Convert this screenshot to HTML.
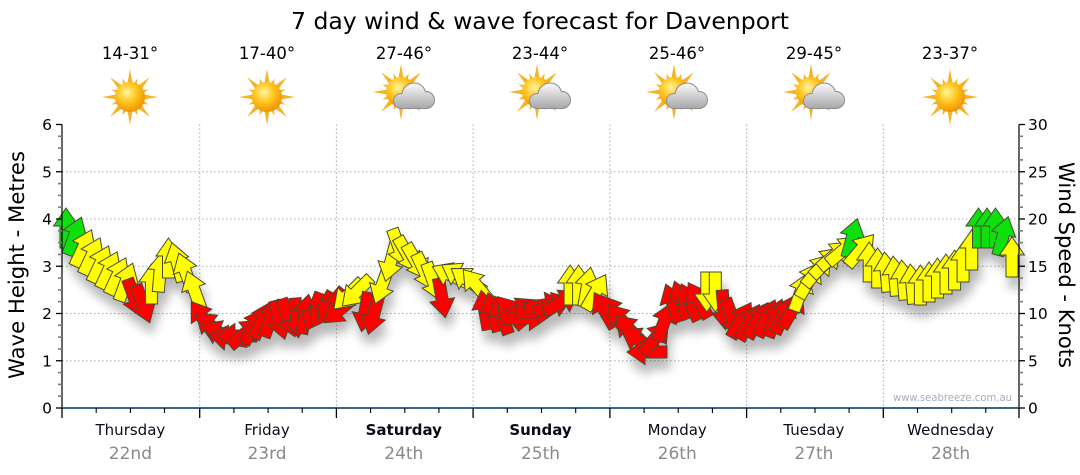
<!DOCTYPE html>
<html><head><meta charset="utf-8"><style>
html,body{margin:0;padding:0;background:#fff;}
svg{display:block;}
text{font-family:"DejaVu Sans","Liberation Sans",sans-serif;}
.r{fill:#ff0000}.y{fill:#ffff00}.g{fill:#11e011}
</style></head><body>
<svg width="1080" height="475" viewBox="0 0 1080 475" xmlns="http://www.w3.org/2000/svg">
<defs>
<polygon id="a" points="0,-20 12.5,-2 6,-2 6,20 -6,20 -6,-2 -12.5,-2" stroke="#4a4a30" stroke-width="1" stroke-linejoin="miter"/>
<filter id="sh" x="-10%" y="-20%" width="120%" height="160%">
<feGaussianBlur in="SourceAlpha" stdDeviation="5"/>
<feOffset dx="3" dy="11" result="o"/>
<feComponentTransfer><feFuncA type="linear" slope="0.28"/></feComponentTransfer>
<feMerge><feMergeNode/><feMergeNode in="SourceGraphic"/></feMerge>
</filter>
<radialGradient id="sg" cx="0.4" cy="0.35" r="0.7"><stop offset="0" stop-color="#fff3a0"/><stop offset="0.45" stop-color="#ffc820"/><stop offset="1" stop-color="#ee8c00"/></radialGradient>
<linearGradient id="cg" gradientUnits="userSpaceOnUse" x1="0" y1="-9" x2="0" y2="16"><stop offset="0" stop-color="#fafafa"/><stop offset="1" stop-color="#a9a9a9"/></linearGradient>
<g id="sun">
<g fill="#f5b428">
<polygon points="0,-28 3,-11 -3,-11"/>
<polygon points="0,-20 2.5,-11 -2.5,-11" transform="rotate(22.5)"/>
<polygon points="0,-28 3,-11 -3,-11" transform="rotate(45)"/>
<polygon points="0,-20 2.5,-11 -2.5,-11" transform="rotate(67.5)"/>
<polygon points="0,-28 3,-11 -3,-11" transform="rotate(90)"/>
<polygon points="0,-20 2.5,-11 -2.5,-11" transform="rotate(112.5)"/>
<polygon points="0,-28 3,-11 -3,-11" transform="rotate(135)"/>
<polygon points="0,-20 2.5,-11 -2.5,-11" transform="rotate(157.5)"/>
<polygon points="0,-28 3,-11 -3,-11" transform="rotate(180)"/>
<polygon points="0,-20 2.5,-11 -2.5,-11" transform="rotate(202.5)"/>
<polygon points="0,-28 3,-11 -3,-11" transform="rotate(225)"/>
<polygon points="0,-20 2.5,-11 -2.5,-11" transform="rotate(247.5)"/>
<polygon points="0,-28 3,-11 -3,-11" transform="rotate(270)"/>
<polygon points="0,-20 2.5,-11 -2.5,-11" transform="rotate(292.5)"/>
<polygon points="0,-28 3,-11 -3,-11" transform="rotate(315)"/>
<polygon points="0,-20 2.5,-11 -2.5,-11" transform="rotate(337.5)"/>
</g>
<circle r="15" fill="url(#sg)"/>
</g>
<g id="cl">
<g fill="#8c8c8c" stroke="#8c8c8c" stroke-width="2">
<circle cx="13" cy="3" r="11.5"/><circle cx="0" cy="9" r="7"/><circle cx="25" cy="8" r="8"/><rect x="0" y="8" width="25" height="8"/>
</g>
<g fill="url(#cg)">
<circle cx="13" cy="3" r="11.5"/><circle cx="0" cy="9" r="7"/><circle cx="25" cy="8" r="8"/><rect x="0" y="8" width="25" height="8"/>
</g>
</g>
<g id="pc"><use href="#sun"/><use href="#cl"/></g>
</defs>

<rect width="1080" height="475" fill="#fff"/>

<!-- title -->
<text x="540" y="29" font-size="23" text-anchor="middle" textLength="498" lengthAdjust="spacingAndGlyphs" fill="#000">7 day wind &amp; wave forecast for Davenport</text>

<!-- temps -->
<g font-size="16.5" text-anchor="middle" fill="#000">
<text x="130" y="59">14-31°</text>
<text x="267" y="59">17-40°</text>
<text x="404" y="59">27-46°</text>
<text x="540" y="59">23-44°</text>
<text x="677" y="59">25-46°</text>
<text x="814" y="59">29-45°</text>
<text x="950" y="59">23-37°</text>
</g>

<!-- icons -->
<use href="#sun" x="130" y="97"/>
<use href="#sun" x="267" y="97"/>
<use href="#pc" x="401" y="92"/>
<use href="#pc" x="537" y="92"/>
<use href="#pc" x="674" y="92"/>
<use href="#pc" x="811" y="92"/>
<use href="#sun" x="950" y="97"/>

<!-- grid -->
<g stroke="#a8a8a8" stroke-width="1" stroke-dasharray="1.5,2.5">
<line x1="62" y1="360.75" x2="1019" y2="360.75"/>
<line x1="62" y1="313.5" x2="1019" y2="313.5"/>
<line x1="62" y1="266.25" x2="1019" y2="266.25"/>
<line x1="62" y1="219" x2="1019" y2="219"/>
<line x1="62" y1="171.75" x2="1019" y2="171.75"/>
<line x1="199.7" y1="124.5" x2="199.7" y2="408"/>
<line x1="336.4" y1="124.5" x2="336.4" y2="408"/>
<line x1="473.1" y1="124.5" x2="473.1" y2="408"/>
<line x1="609.9" y1="124.5" x2="609.9" y2="408"/>
<line x1="746.6" y1="124.5" x2="746.6" y2="408"/>
<line x1="883.3" y1="124.5" x2="883.3" y2="408"/>
</g>

<!-- watermark -->
<text x="893" y="401" font-size="10.5" fill="#a4adbd" textLength="119" lengthAdjust="spacingAndGlyphs">www.seabreeze.com.au</text>

<!-- arrows -->
<g filter="url(#sh)">
<use href="#a" class="g" transform="translate(66,228) rotate(0)"/>
<use href="#a" class="g" transform="translate(74.5,236) rotate(20)"/>
<use href="#a" class="y" transform="translate(83.1,248) rotate(25)"/>
<use href="#a" class="y" transform="translate(91.6,256) rotate(25)"/>
<use href="#a" class="y" transform="translate(100.2,264) rotate(25)"/>
<use href="#a" class="y" transform="translate(108.7,270) rotate(25)"/>
<use href="#a" class="y" transform="translate(117.3,276) rotate(25)"/>
<use href="#a" class="y" transform="translate(125.8,282) rotate(20)"/>
<use href="#a" class="r" transform="translate(134.4,298) rotate(160)"/>
<use href="#a" class="r" transform="translate(142.9,304) rotate(160)"/>
<use href="#a" class="y" transform="translate(151.4,284) rotate(0)"/>
<use href="#a" class="y" transform="translate(160,272) rotate(5)"/>
<use href="#a" class="y" transform="translate(168.5,258) rotate(0)"/>
<use href="#a" class="y" transform="translate(177.1,262) rotate(-15)"/>
<use href="#a" class="y" transform="translate(185.6,272) rotate(-20)"/>
<use href="#a" class="y" transform="translate(194.2,290) rotate(-20)"/>

<use href="#a" class="r" transform="translate(202.7,318) rotate(-35)"/>
<use href="#a" class="r" transform="translate(211.2,326) rotate(-50)"/>
<use href="#a" class="r" transform="translate(219.8,333) rotate(-65)"/>
<use href="#a" class="r" transform="translate(228.3,338) rotate(-80)"/>
<use href="#a" class="r" transform="translate(236.9,336) rotate(-90)"/>
<use href="#a" class="r" transform="translate(245.4,333) rotate(50)"/>
<use href="#a" class="r" transform="translate(254,326) rotate(30)"/>
<use href="#a" class="r" transform="translate(262.5,320) rotate(25)"/>
<use href="#a" class="r" transform="translate(271.1,318) rotate(20)"/>
<use href="#a" class="r" transform="translate(279.6,320) rotate(165)"/>
<use href="#a" class="r" transform="translate(288.2,318) rotate(160)"/>
<use href="#a" class="r" transform="translate(296.7,318) rotate(175)"/>
<use href="#a" class="r" transform="translate(305.2,314) rotate(10)"/>
<use href="#a" class="r" transform="translate(313.8,312) rotate(200)"/>
<use href="#a" class="r" transform="translate(322.3,310) rotate(210)"/>
<use href="#a" class="r" transform="translate(330.9,305) rotate(220)"/>

<use href="#a" class="r" transform="translate(339.4,310) rotate(230)"/>
<use href="#a" class="y" transform="translate(348,295) rotate(225)"/>
<use href="#a" class="y" transform="translate(356.5,292) rotate(225)"/>
<use href="#a" class="r" transform="translate(365,312) rotate(190)"/>
<use href="#a" class="r" transform="translate(373.6,315) rotate(195)"/>
<use href="#a" class="y" transform="translate(382.1,285) rotate(200)"/>
<use href="#a" class="y" transform="translate(390.7,262) rotate(195)"/>
<use href="#a" class="y" transform="translate(399.2,248) rotate(160)"/>
<use href="#a" class="y" transform="translate(407.8,255) rotate(150)"/>
<use href="#a" class="y" transform="translate(416.3,262) rotate(150)"/>
<use href="#a" class="y" transform="translate(424.8,272) rotate(155)"/>
<use href="#a" class="y" transform="translate(433.4,282) rotate(160)"/>
<use href="#a" class="r" transform="translate(441.9,298) rotate(170)"/>
<use href="#a" class="y" transform="translate(450.5,275) rotate(-65)"/>
<use href="#a" class="y" transform="translate(459,275) rotate(-60)"/>
<use href="#a" class="y" transform="translate(467.6,280) rotate(-55)"/>

<use href="#a" class="y" transform="translate(476.1,285) rotate(-40)"/>
<use href="#a" class="r" transform="translate(484.7,310) rotate(-10)"/>
<use href="#a" class="r" transform="translate(493.2,312) rotate(-15)"/>
<use href="#a" class="r" transform="translate(501.7,315) rotate(-20)"/>
<use href="#a" class="r" transform="translate(510.3,312) rotate(-40)"/>
<use href="#a" class="r" transform="translate(518.8,310) rotate(60)"/>
<use href="#a" class="r" transform="translate(527.4,318) rotate(90)"/>
<use href="#a" class="r" transform="translate(535.9,312) rotate(90)"/>
<use href="#a" class="r" transform="translate(544.5,305) rotate(80)"/>
<use href="#a" class="r" transform="translate(553,305) rotate(70)"/>
<use href="#a" class="r" transform="translate(561.6,302) rotate(60)"/>
<use href="#a" class="y" transform="translate(570.1,285) rotate(0)"/>
<use href="#a" class="y" transform="translate(578.6,285) rotate(0)"/>
<use href="#a" class="y" transform="translate(587.2,287) rotate(10)"/>
<use href="#a" class="y" transform="translate(595.7,292) rotate(30)"/>
<use href="#a" class="r" transform="translate(604.3,310) rotate(-30)"/>

<use href="#a" class="r" transform="translate(612.8,312) rotate(-35)"/>
<use href="#a" class="r" transform="translate(621.4,320) rotate(-40)"/>
<use href="#a" class="r" transform="translate(629.9,330) rotate(-45)"/>
<use href="#a" class="r" transform="translate(638.5,340) rotate(-60)"/>
<use href="#a" class="r" transform="translate(647,352) rotate(-90)"/>
<use href="#a" class="r" transform="translate(655.5,338) rotate(40)"/>
<use href="#a" class="r" transform="translate(664.1,322) rotate(20)"/>
<use href="#a" class="r" transform="translate(672.6,303) rotate(-20)"/>
<use href="#a" class="r" transform="translate(681.2,300) rotate(-20)"/>
<use href="#a" class="r" transform="translate(689.7,302) rotate(-25)"/>
<use href="#a" class="r" transform="translate(698.3,300) rotate(-30)"/>
<use href="#a" class="y" transform="translate(706.8,292) rotate(180)"/>
<use href="#a" class="y" transform="translate(715.3,292) rotate(180)"/>
<use href="#a" class="r" transform="translate(723.9,310) rotate(175)"/>
<use href="#a" class="r" transform="translate(732.4,318) rotate(160)"/>
<use href="#a" class="r" transform="translate(741,320) rotate(30)"/>

<use href="#a" class="r" transform="translate(749.5,322) rotate(30)"/>
<use href="#a" class="r" transform="translate(758.1,320) rotate(30)"/>
<use href="#a" class="r" transform="translate(766.6,318) rotate(25)"/>
<use href="#a" class="r" transform="translate(775.2,318) rotate(20)"/>
<use href="#a" class="r" transform="translate(783.7,315) rotate(25)"/>
<use href="#a" class="r" transform="translate(792.3,310) rotate(30)"/>
<use href="#a" class="y" transform="translate(800.8,292) rotate(20)"/>
<use href="#a" class="y" transform="translate(809.3,280) rotate(30)"/>
<use href="#a" class="y" transform="translate(817.9,270) rotate(40)"/>
<use href="#a" class="y" transform="translate(826.4,262) rotate(45)"/>
<use href="#a" class="y" transform="translate(835,255) rotate(50)"/>
<use href="#a" class="y" transform="translate(843.5,250) rotate(50)"/>
<use href="#a" class="g" transform="translate(852.1,238) rotate(15)"/>
<use href="#a" class="y" transform="translate(860.6,250) rotate(40)"/>
<use href="#a" class="y" transform="translate(869.2,262) rotate(0)"/>
<use href="#a" class="y" transform="translate(877.7,268) rotate(0)"/>

<use href="#a" class="y" transform="translate(886.2,272) rotate(-5)"/>
<use href="#a" class="y" transform="translate(894.8,276) rotate(-5)"/>
<use href="#a" class="y" transform="translate(903.3,280) rotate(-5)"/>
<use href="#a" class="y" transform="translate(911.9,284) rotate(-5)"/>
<use href="#a" class="y" transform="translate(920.4,285) rotate(0)"/>
<use href="#a" class="y" transform="translate(929,282) rotate(0)"/>
<use href="#a" class="y" transform="translate(937.5,278) rotate(0)"/>
<use href="#a" class="y" transform="translate(946,274) rotate(0)"/>
<use href="#a" class="y" transform="translate(954.6,270) rotate(0)"/>
<use href="#a" class="y" transform="translate(963.1,262) rotate(0)"/>
<use href="#a" class="y" transform="translate(971.7,250) rotate(0)"/>
<use href="#a" class="g" transform="translate(978.5,228) rotate(0)"/>
<use href="#a" class="g" transform="translate(987,228) rotate(0)"/>
<use href="#a" class="g" transform="translate(995.5,228) rotate(0)"/>
<use href="#a" class="g" transform="translate(1003,236) rotate(15)"/>
<use href="#a" class="y" transform="translate(1012,257) rotate(0)"/>
</g>

<!-- axes -->
<line x1="62" y1="124.5" x2="62" y2="408" stroke="#000" stroke-width="1.2"/>
<line x1="1019" y1="124.5" x2="1019" y2="408" stroke="#000" stroke-width="1.2"/>
<line x1="62" y1="408" x2="1019" y2="408" stroke="#1b4f78" stroke-width="1.8"/>

<!-- left/right major ticks -->
<g stroke="#000" stroke-width="1.3">
<line x1="56" y1="408" x2="62" y2="408"/><line x1="56" y1="360.75" x2="62" y2="360.75"/><line x1="56" y1="313.5" x2="62" y2="313.5"/><line x1="56" y1="266.25" x2="62" y2="266.25"/><line x1="56" y1="219" x2="62" y2="219"/><line x1="56" y1="171.75" x2="62" y2="171.75"/><line x1="56" y1="124.5" x2="62" y2="124.5"/>
<line x1="1019" y1="408" x2="1025" y2="408"/><line x1="1019" y1="360.75" x2="1025" y2="360.75"/><line x1="1019" y1="313.5" x2="1025" y2="313.5"/><line x1="1019" y1="266.25" x2="1025" y2="266.25"/><line x1="1019" y1="219" x2="1025" y2="219"/><line x1="1019" y1="171.75" x2="1025" y2="171.75"/><line x1="1019" y1="124.5" x2="1025" y2="124.5"/>
</g>
<!-- minor ticks -->
<g stroke="#7a7a7a" stroke-width="1.6">
<line x1="58" y1="396.2" x2="62" y2="396.2"/><line x1="58" y1="384.4" x2="62" y2="384.4"/><line x1="58" y1="372.6" x2="62" y2="372.6"/>
<line x1="58" y1="349" x2="62" y2="349"/><line x1="58" y1="337.1" x2="62" y2="337.1"/><line x1="58" y1="325.3" x2="62" y2="325.3"/>
<line x1="58" y1="301.7" x2="62" y2="301.7"/><line x1="58" y1="289.9" x2="62" y2="289.9"/><line x1="58" y1="278.1" x2="62" y2="278.1"/>
<line x1="58" y1="254.4" x2="62" y2="254.4"/><line x1="58" y1="242.6" x2="62" y2="242.6"/><line x1="58" y1="230.8" x2="62" y2="230.8"/>
<line x1="58" y1="207.2" x2="62" y2="207.2"/><line x1="58" y1="195.4" x2="62" y2="195.4"/><line x1="58" y1="183.6" x2="62" y2="183.6"/>
<line x1="58" y1="159.9" x2="62" y2="159.9"/><line x1="58" y1="148.1" x2="62" y2="148.1"/><line x1="58" y1="136.3" x2="62" y2="136.3"/>
<line x1="1019" y1="396.2" x2="1023" y2="396.2"/><line x1="1019" y1="384.4" x2="1023" y2="384.4"/><line x1="1019" y1="372.6" x2="1023" y2="372.6"/>
<line x1="1019" y1="349" x2="1023" y2="349"/><line x1="1019" y1="337.1" x2="1023" y2="337.1"/><line x1="1019" y1="325.3" x2="1023" y2="325.3"/>
<line x1="1019" y1="301.7" x2="1023" y2="301.7"/><line x1="1019" y1="289.9" x2="1023" y2="289.9"/><line x1="1019" y1="278.1" x2="1023" y2="278.1"/>
<line x1="1019" y1="254.4" x2="1023" y2="254.4"/><line x1="1019" y1="242.6" x2="1023" y2="242.6"/><line x1="1019" y1="230.8" x2="1023" y2="230.8"/>
<line x1="1019" y1="207.2" x2="1023" y2="207.2"/><line x1="1019" y1="195.4" x2="1023" y2="195.4"/><line x1="1019" y1="183.6" x2="1023" y2="183.6"/>
<line x1="1019" y1="159.9" x2="1023" y2="159.9"/><line x1="1019" y1="148.1" x2="1023" y2="148.1"/><line x1="1019" y1="136.3" x2="1023" y2="136.3"/>
</g>

<!-- bottom ticks -->
<g stroke="#000" stroke-width="1.3">
<line x1="62" y1="408" x2="62" y2="418"/><line x1="199.7" y1="408" x2="199.7" y2="418"/><line x1="336.4" y1="408" x2="336.4" y2="418"/><line x1="473.1" y1="408" x2="473.1" y2="418"/><line x1="609.9" y1="408" x2="609.9" y2="418"/><line x1="746.6" y1="408" x2="746.6" y2="418"/><line x1="883.3" y1="408" x2="883.3" y2="418"/><line x1="1019" y1="408" x2="1019" y2="418"/>
</g>
<g stroke="#000" stroke-width="1.1">
<line x1="96.2" y1="408" x2="96.2" y2="413"/><line x1="130.4" y1="408" x2="130.4" y2="413"/><line x1="164.5" y1="408" x2="164.5" y2="413"/>
<line x1="233.9" y1="408" x2="233.9" y2="413"/><line x1="268.1" y1="408" x2="268.1" y2="413"/><line x1="302.2" y1="408" x2="302.2" y2="413"/>
<line x1="370.6" y1="408" x2="370.6" y2="413"/><line x1="404.8" y1="408" x2="404.8" y2="413"/><line x1="438.9" y1="408" x2="438.9" y2="413"/>
<line x1="507.3" y1="408" x2="507.3" y2="413"/><line x1="541.5" y1="408" x2="541.5" y2="413"/><line x1="575.7" y1="408" x2="575.7" y2="413"/>
<line x1="644.1" y1="408" x2="644.1" y2="413"/><line x1="678.2" y1="408" x2="678.2" y2="413"/><line x1="712.4" y1="408" x2="712.4" y2="413"/>
<line x1="780.8" y1="408" x2="780.8" y2="413"/><line x1="815" y1="408" x2="815" y2="413"/><line x1="849.1" y1="408" x2="849.1" y2="413"/>
<line x1="917.5" y1="408" x2="917.5" y2="413"/><line x1="951.7" y1="408" x2="951.7" y2="413"/><line x1="985.8" y1="408" x2="985.8" y2="413"/>
</g>

<!-- tick labels -->
<g font-size="15.5" fill="#000" text-anchor="end">
<text x="52" y="413.5">0</text><text x="52" y="366.3">1</text><text x="52" y="319">2</text><text x="52" y="271.8">3</text><text x="52" y="224.5">4</text><text x="52" y="177.3">5</text><text x="52" y="130">6</text>
</g>
<g font-size="15.5" fill="#000" text-anchor="start">
<text x="1028" y="413.5">0</text><text x="1028" y="366.3">5</text><text x="1028" y="319">10</text><text x="1028" y="271.8">15</text><text x="1028" y="224.5">20</text><text x="1028" y="177.3">25</text><text x="1028" y="130">30</text>
</g>

<!-- axis titles -->
<text transform="translate(24,265) rotate(-90)" font-size="21" text-anchor="middle" textLength="228" lengthAdjust="spacingAndGlyphs" fill="#000">Wave Height - Metres</text>
<text transform="translate(1059,265) rotate(90)" font-size="21" text-anchor="middle" textLength="206" lengthAdjust="spacingAndGlyphs" fill="#000">Wind Speed - Knots</text>

<!-- day labels -->
<g font-size="15" text-anchor="middle" fill="#0a0a1a">
<text x="130.4" y="435">Thursday</text>
<text x="267" y="435">Friday</text>
<text x="403.8" y="435" font-weight="bold">Saturday</text>
<text x="540.5" y="435" font-weight="bold">Sunday</text>
<text x="677.2" y="435">Monday</text>
<text x="813.9" y="435">Tuesday</text>
<text x="950.6" y="435">Wednesday</text>
</g>
<g font-size="17" text-anchor="middle" fill="#8a8a8a">
<text x="130.4" y="459">22nd</text>
<text x="267" y="459">23rd</text>
<text x="403.8" y="459">24th</text>
<text x="540.5" y="459">25th</text>
<text x="677.2" y="459">26th</text>
<text x="813.9" y="459">27th</text>
<text x="950.6" y="459">28th</text>
</g>
</svg>
</body></html>
